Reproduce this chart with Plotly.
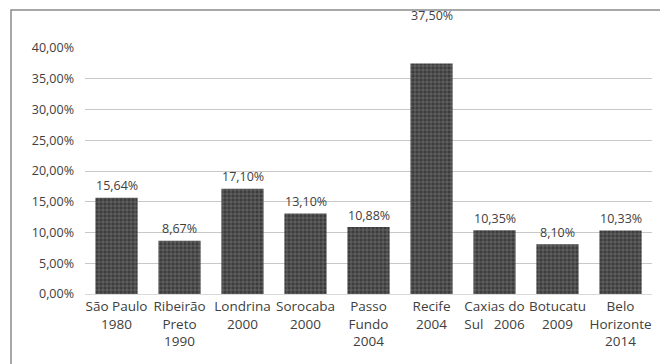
import plotly.graph_objects as go

categories = ["São Paulo<br>1980", "Ribeirão<br>Preto<br>1990", "Londrina<br>2000",
              "Sorocaba<br>2000", "Passo<br>Fundo<br>2004", "Recife<br>2004",
              "Caxias do<br>Sul\u00a0\u00a0\u00a02006", "Botucatu<br>2009", "Belo<br>Horizonte<br>2014"]
values = [15.64, 8.67, 17.10, 13.10, 10.88, 37.50, 10.35, 8.10, 10.33]
label_text = ["15,64%", "8,67%", "17,10%", "13,10%", "10,88%", "37,50%", "10,35%", "8,10%", "10,33%"]
tick_vals = [0, 5, 10, 15, 20, 25, 30, 35, 40]
tick_text = ["0,00%", "5,00%", "10,00%", "15,00%", "20,00%", "25,00%", "30,00%", "35,00%", "40,00%"]

FONT = "Open Sans"
TXT = "#404040"

fig = go.Figure()
fig.add_trace(go.Bar(
    x=categories, y=values,
    marker=dict(color="#3c3c3c", line=dict(width=0),
                pattern=dict(shape="+", fgcolor="#b0b0b0", size=4, solidity=0.3)),
    hoverinfo="skip",
))

label_shift = [12] * len(values)
label_shift[5] = 48
for c, v, t, s in zip(categories, values, label_text, label_shift):
    fig.add_annotation(x=c, y=v, text=t, showarrow=False, yshift=s,
                       font=dict(family=FONT, size=12.5, color=TXT))

# outer frame
fig.add_shape(type="rect", xref="paper", yref="paper",
              x0=(11 - 85) / 567, x1=1.2, y0=-0.5, y1=(294 - 10) / 246,
              line=dict(color="#8a8a8a", width=1.5), layer="below")

fig.update_layout(
    width=660, height=364,
    margin=dict(l=85, r=8, t=48, b=70),
    paper_bgcolor="white", plot_bgcolor="white",
    bargap=0.33, showlegend=False,
    font=dict(family=FONT, size=12.5, color=TXT),
    xaxis=dict(showgrid=False, showline=True, linecolor="#d9d9d9", linewidth=1,
               ticks="", tickangle=0, tickfont=dict(family=FONT, size=13.5, color=TXT)),
    yaxis=dict(range=[0, 40], tickvals=tick_vals, ticktext=tick_text,
               showgrid=True, gridcolor="#c8c8c8", gridwidth=1, zeroline=False,
               showline=False, ticks="", ticklabelstandoff=10,
               tickfont=dict(family=FONT, size=12.5, color=TXT)),
)

fig.write_html("out.html")
